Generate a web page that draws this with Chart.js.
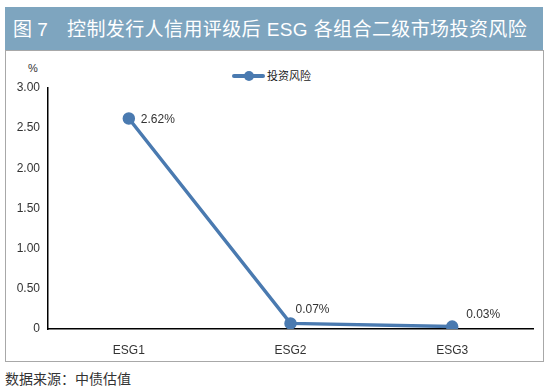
<!DOCTYPE html>
<html>
<head>
<meta charset="utf-8">
<script src="https://cdn.jsdelivr.net/npm/chart.js@4.4.0/dist/chart.umd.min.js"></script>
<style>
  body { margin: 0; width: 550px; height: 389px; background: #fff; position: relative; overflow: hidden;
         font-family: "Liberation Sans", "Noto Sans CJK SC", sans-serif; }
  .banner { position: absolute; left: 5px; top: 7px; width: 538px; height: 43px; background: #7ea5bf;
            color: #fff; font-size: 19px; line-height: 45px; }
  .banner .num { position: absolute; left: 8px; top: 0; }
  .banner .ttl { position: absolute; left: 62px; top: 0; letter-spacing: 0.4px; white-space: nowrap; }
  .frame { position: absolute; left: 5px; top: 50px; width: 539px; height: 312px; border: 1px solid #a8a8a8;
           box-sizing: border-box; }
  .unit { position: absolute; left: 28px; top: 62px; font-size: 11px; color: #333; }
  .legend { position: absolute; left: 232px; top: 68px; height: 16px; font-size: 11px; color: #222; }
  .legend .ln { position: absolute; left: 0; top: 6px; width: 33px; height: 4px; background: #4a7ab0; border-radius: 2px; }
  .legend .dot { position: absolute; left: 12px; top: 3px; width: 10px; height: 10px; background: #4a7ab0; border-radius: 50%; }
  .legend .tx { position: absolute; left: 35px; top: 0; line-height: 16px; white-space: nowrap; }
  .source { position: absolute; left: 5px; top: 368px; font-size: 14px; color: #333; }
  canvas { position: absolute; left: 0; top: 0; }
</style>
</head>
<body>
<div class="banner"><span class="num">图 7</span><span class="ttl">控制发行人信用评级后 ESG 各组合二级市场投资风险</span></div>
<div class="frame"></div>
<div class="unit">%</div>
<div class="legend"><div class="ln"></div><div class="dot"></div><div class="tx">投资风险</div></div>
<div class="source">数据来源：中债估值</div>
<canvas id="lineChart" width="550" height="389"></canvas>
<script>
const categories = ["ESG1", "ESG2", "ESG3"];
const riskValues = [2.62, 0.07, 0.03];
const seriesName = "投资风险";

// label offsets relative to each point
const labelOffsets = [[12, 1], [5, -14], [14, -12]];

const pointLabels = {
  id: "pointLabels",
  afterDatasetsDraw(chart) {
    const ctx = chart.ctx;
    const meta = chart.getDatasetMeta(0);
    ctx.save();
    ctx.font = '12px "Liberation Sans", sans-serif';
    ctx.fillStyle = "#333";
    ctx.textAlign = "left";
    ctx.textBaseline = "middle";
    meta.data.forEach((pt, i) => {
      const off = labelOffsets[i];
      ctx.fillText(riskValues[i].toFixed(2) + "%", pt.x + off[0], pt.y + off[1]);
    });
    ctx.restore();
  }
};

new Chart(document.getElementById("lineChart"), {
  type: "line",
  data: {
    labels: categories,
    datasets: [{
      label: seriesName,
      data: riskValues,
      borderColor: "#4a7ab0",
      backgroundColor: "#4a7ab0",
      borderWidth: 3.5,
      pointRadius: 4.5,
      pointHoverRadius: 4.5,
      tension: 0
    }]
  },
  options: {
    responsive: false,
    animation: false,
    layout: { padding: { left: 8, right: 17, top: 88, bottom: 30 } },
    plugins: { legend: { display: false }, tooltip: { enabled: false } },
    scales: {
      x: {
        offset: true,
        grid: { display: false, drawTicks: false },
        border: { color: "#000", width: 1.5 },
        ticks: { color: "#333", font: { size: 12, family: '"Liberation Sans", sans-serif' }, padding: 14 },
        afterFit(scale) { scale.height = 30; }
      },
      y: {
        min: 0,
        max: 3,
        grid: { display: false, drawTicks: false },
        border: { color: "#000", width: 1.5 },
        ticks: {
          stepSize: 0.5,
          color: "#333",
          padding: 8,
          font: { size: 12, family: '"Liberation Sans", sans-serif' },
          callback: v => v === 0 ? "0" : v.toFixed(2)
        },
        afterFit(scale) { scale.width = 40; }
      }
    }
  },
  plugins: [pointLabels]
});
</script>
</body>
</html>
